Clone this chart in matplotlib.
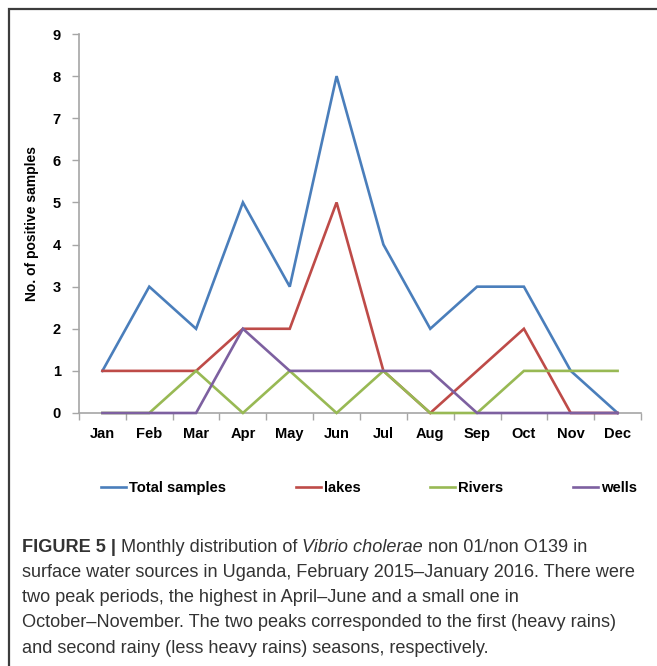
import matplotlib
matplotlib.use("Agg")
import matplotlib.pyplot as plt
from matplotlib.patches import Rectangle

months = ["Jan", "Feb", "Mar", "Apr", "May", "Jun", "Jul", "Aug", "Sep", "Oct", "Nov", "Dec"]
total_samples = [1, 3, 2, 5, 3, 8, 4, 2, 3, 3, 1, 0]
lakes = [1, 1, 1, 2, 2, 5, 1, 0, 1, 2, 0, 0]
rivers = [0, 0, 1, 0, 1, 0, 1, 0, 0, 1, 1, 1]
wells = [0, 0, 0, 2, 1, 1, 1, 1, 0, 0, 0, 0]
series_names = ["Total samples", "lakes", "Rivers", "wells"]
series_colors = ["#4A7EBB", "#BE4B48", "#98B954", "#7D60A0"]
yticks = list(range(0, 10))
ylabel = "No. of positive samples"

caption_lines = [
    [("FIGURE 5 | ", "bold", "normal"), ("Monthly distribution of ", "normal", "normal"),
     ("Vibrio cholerae", "normal", "italic"), (" non 01/non O139 in", "normal", "normal")],
    [("surface water sources in Uganda, February 2015\u2013January 2016. There were", "normal", "normal")],
    [("two peak periods, the highest in April\u2013June and a small one in", "normal", "normal")],
    [("October\u2013November. The two peaks corresponded to the first (heavy rains)", "normal", "normal")],
    [("and second rainy (less heavy rains) seasons, respectively.", "normal", "normal")],
]

W, H = 657, 666
fig = plt.figure(figsize=(W / 100, H / 100), dpi=100)
plt.rcParams['font.family'] = ['Liberation Sans', 'DejaVu Sans']

# outer frame
fig.patches.append(Rectangle((8.5 / W, -0.1), 1.2, 1 - 8.5 / H + 0.1, transform=fig.transFigure,
                             fill=False, edgecolor="#3c3c3c", linewidth=1.6))

ax = fig.add_axes([79 / W, 1 - 413 / H, 562 / W, (413 - 34) / H])
x = list(range(len(months)))
data = [total_samples, lakes, rivers, wells]
for vals, name, col in zip(data, series_names, series_colors):
    ax.plot(x, vals, color=col, linewidth=1.9, label=name, solid_joinstyle="miter",
            clip_on=False, zorder=3)

ax.set_xlim(-0.5, len(months) - 0.5)
ax.set_ylim(0, 9)
ax.set_yticks(yticks)
ax.set_yticklabels([str(t) for t in yticks], fontsize=10.5, fontweight="bold")
ax.set_xticks(x)
ax.set_xticklabels(months, fontsize=10.5, fontweight="bold")
ax.set_xticks([i - 0.5 for i in range(len(months) + 1)], minor=True)
ax.tick_params(axis="x", which="major", length=0, pad=10)
ax.tick_params(axis="x", which="minor", length=5, color="#A6A6A6", width=1)
ax.tick_params(axis="y", length=5, color="#A6A6A6", width=1, pad=8)
for s in ["top", "right"]:
    ax.spines[s].set_visible(False)
for s in ["left", "bottom"]:
    ax.spines[s].set_color("#A6A6A6")
    ax.spines[s].set_linewidth(1.2)
    ax.spines[s].set_zorder(1)
ax.set_ylabel(ylabel, fontsize=10, fontweight="bold", labelpad=10)

leg = ax.legend(loc="center", bbox_to_anchor=(0.5 + (369 - 360) / 562, (413 - 488) / 379), ncol=4,
                frameon=False, prop={"weight": "bold", "size": 10.6}, handlelength=1.7,
                handletextpad=0.2, columnspacing=4.75)

# caption with mixed styles
fig.canvas.draw()
renderer = fig.canvas.get_renderer()
cap_size = 12.0
probe = fig.text(0, 0, caption_lines[1][0][0], fontsize=cap_size)
pw = probe.get_window_extent(renderer).width
probe.remove()
cap_size = cap_size * 618.0 / pw
x0 = 22
y0 = 547
dy = 25.3
for i, line in enumerate(caption_lines):
    xc = x0
    for txt, wt, st in line:
        t = fig.text(xc / W, 1 - (y0 + i * dy) / H, txt, fontsize=cap_size, fontweight=wt, fontstyle=st,
                     va="center", ha="left", color="#333333")
        bb = t.get_window_extent(renderer)
        xc += bb.width

fig.savefig("out.png", dpi=100)
